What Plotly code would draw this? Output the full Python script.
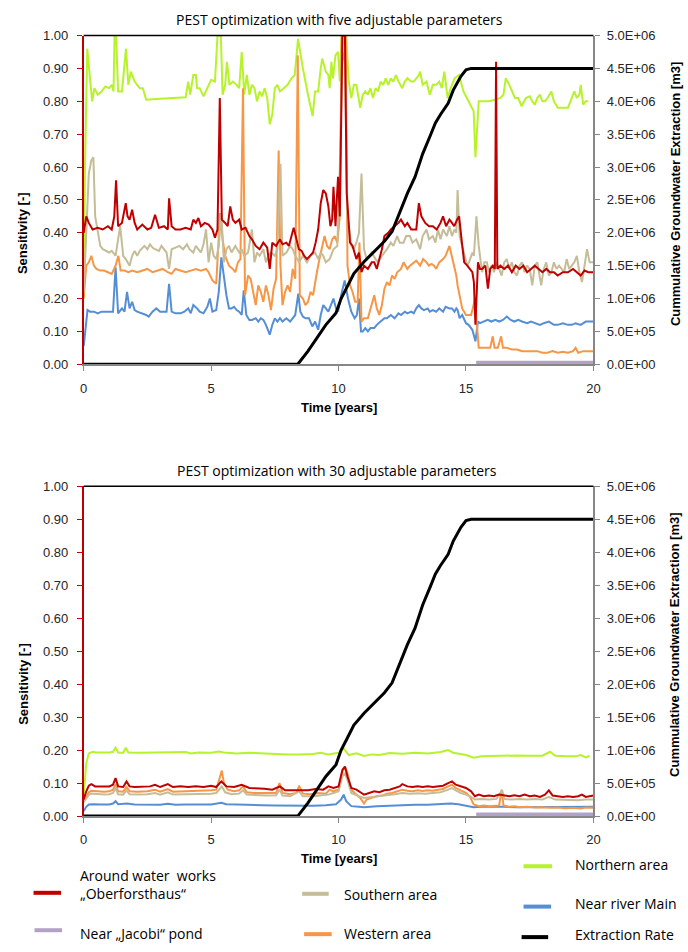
import plotly.graph_objects as go

W, H = 688, 952

# ---------------- data: top chart (five adjustable parameters) ----------------
top_red = [(0.0,0.40),(0.1,0.45),(0.2,0.43),(0.35,0.41),(0.55,0.415),(0.75,0.41),(0.95,0.42),(1.1,0.41),(1.2,0.45),(1.27,0.56),
 (1.35,0.42),(1.5,0.43),(1.65,0.49),(1.72,0.45),(1.8,0.44),(1.9,0.47),(2.0,0.43),(2.1,0.41),(2.3,0.425),(2.5,0.41),(2.65,0.415),
 (2.8,0.455),(2.95,0.415),(3.15,0.42),(3.3,0.41),(3.35,0.505),(3.45,0.42),(3.6,0.41),(3.8,0.41),(4.0,0.415),(4.2,0.41),(4.3,0.44),
 (4.4,0.43),(4.5,0.445),(4.6,0.42),(4.75,0.43),(4.9,0.425),(5.05,0.41),(5.15,0.385),(5.25,0.41),(5.34,0.81),(5.42,0.44),(5.55,0.43),
 (5.65,0.42),(5.75,0.48),(5.85,0.44),(5.95,0.43),(6.1,0.44),(6.2,0.41),(6.35,0.415),(6.5,0.39),(6.6,0.38),(6.75,0.36),(6.9,0.35),
 (7.05,0.37),(7.2,0.355),(7.3,0.29),(7.4,0.37),(7.55,0.36),(7.7,0.38),(7.8,0.365),(7.95,0.37),(8.05,0.36),(8.15,0.39),(8.24,0.415),
 (8.35,0.38),(8.44,0.35),(8.55,0.345),(8.65,0.33),(8.76,0.32),(8.9,0.33),(9.0,0.34),(9.1,0.37),(9.2,0.41),(9.3,0.49),(9.4,0.53),
 (9.5,0.52),(9.6,0.48),(9.68,0.42),(9.75,0.44),(9.8,0.54),(9.88,0.42),(9.93,0.5),(9.98,0.57),(10.05,0.45),(10.15,1.0),(10.25,1.0),
 (10.32,0.52),(10.45,0.37),(10.55,0.36),(10.7,0.32),(10.8,0.34),(10.9,0.28),(11.0,0.3),(11.15,0.29),(11.3,0.31),(11.4,0.31),
 (11.5,0.29),(11.6,0.32),(11.7,0.35),(11.8,0.39),(11.95,0.40),(12.05,0.41),(12.2,0.42),(12.35,0.43),(12.45,0.44),(12.6,0.42),
 (12.7,0.43),(12.85,0.41),(12.95,0.41),(13.05,0.41),(13.15,0.49),(13.25,0.45),(13.4,0.43),(13.55,0.42),(13.7,0.42),(13.85,0.41),
 (14.0,0.43),(14.1,0.45),(14.22,0.42),(14.35,0.44),(14.45,0.43),(14.54,0.42),(14.65,0.44),(14.73,0.45),(14.84,0.37),(14.93,0.31),
 (15.05,0.30),(15.15,0.29),(15.25,0.28),(15.31,0.25),(15.37,0.12),(15.47,0.31),(15.55,0.29),(15.63,0.29),(15.76,0.30),(15.86,0.23),
 (15.95,0.29),(16.05,0.30),(16.13,0.29),(16.18,0.92),(16.23,0.29),(16.35,0.30),(16.5,0.29),(16.65,0.30),(16.8,0.28),(16.95,0.30),
 (17.1,0.29),(17.25,0.30),(17.4,0.28),(17.55,0.29),(17.7,0.30),(17.85,0.29),(18.0,0.28),(18.15,0.29),(18.3,0.28),(18.45,0.28),
 (18.6,0.27),(18.8,0.28),(19.0,0.28),(19.2,0.29),(19.35,0.28),(19.5,0.27),(19.65,0.285),(19.8,0.28),(20.0,0.28)]

top_tan = [(0.0,0.22),(0.1,0.40),(0.2,0.58),(0.3,0.62),(0.38,0.63),(0.45,0.45),(0.55,0.40),(0.65,0.36),(0.75,0.35),(0.9,0.345),
 (1.0,0.34),(1.1,0.345),(1.25,0.33),(1.43,0.42),(1.55,0.33),(1.65,0.32),(1.8,0.30),(1.9,0.33),(2.0,0.345),(2.1,0.33),(2.2,0.345),
 (2.38,0.36),(2.5,0.35),(2.6,0.365),(2.7,0.355),(2.8,0.35),(2.95,0.345),(3.05,0.36),(3.15,0.35),(3.25,0.34),(3.35,0.29),(3.45,0.35),
 (3.6,0.355),(3.75,0.36),(3.9,0.35),(4.05,0.365),(4.15,0.35),(4.3,0.34),(4.4,0.36),(4.5,0.35),(4.6,0.34),(4.7,0.365),(4.8,0.41),
 (4.9,0.31),(5.0,0.37),(5.1,0.33),(5.2,0.32),(5.3,0.36),(5.4,0.46),(5.5,0.31),(5.6,0.35),(5.7,0.36),(5.8,0.34),(5.95,0.36),(6.1,0.34),
 (6.2,0.35),(6.3,0.33),(6.45,0.34),(6.6,0.41),(6.7,0.31),(6.8,0.34),(6.9,0.33),(7.05,0.35),(7.15,0.31),(7.25,0.33),(7.35,0.34),
 (7.5,0.33),(7.6,0.35),(7.72,0.61),(7.8,0.33),(7.95,0.34),(8.1,0.36),(8.2,0.35),(8.3,0.33),(8.45,0.31),(8.6,0.33),(8.76,0.31),
 (8.9,0.33),(9.08,0.34),(9.2,0.32),(9.3,0.34),(9.4,0.33),(9.5,0.31),(9.65,0.32),(9.8,0.35),(9.95,0.36),(10.05,0.60),(10.15,0.95),
 (10.25,0.92),(10.35,0.45),(10.5,0.36),(10.6,0.35),(10.7,0.37),(10.8,0.40),(10.9,0.58),(11.0,0.35),(11.1,0.32),(11.2,0.33),
 (11.3,0.34),(11.45,0.32),(11.55,0.31),(11.7,0.33),(11.8,0.34),(11.9,0.35),(12.05,0.37),(12.15,0.36),(12.3,0.39),(12.4,0.37),
 (12.55,0.37),(12.65,0.39),(12.8,0.39),(12.9,0.37),(13.05,0.38),(13.2,0.35),(13.3,0.39),(13.45,0.41),(13.55,0.38),(13.7,0.39),
 (13.8,0.37),(13.9,0.41),(14.0,0.38),(14.1,0.41),(14.25,0.39),(14.35,0.42),(14.45,0.39),(14.55,0.41),(14.62,0.40),(14.67,0.53),
 (14.75,0.39),(14.85,0.36),(14.93,0.33),(15.05,0.30),(15.12,0.31),(15.25,0.34),(15.31,0.33),(15.41,0.45),(15.5,0.36),(15.63,0.28),
 (15.72,0.31),(15.82,0.31),(15.9,0.28),(16.0,0.30),(16.1,0.28),(16.2,0.31),(16.3,0.29),(16.4,0.27),(16.5,0.31),(16.6,0.32),
 (16.7,0.29),(16.8,0.31),(16.9,0.28),(17.0,0.27),(17.1,0.30),(17.2,0.31),(17.3,0.28),(17.4,0.30),(17.5,0.29),(17.6,0.24),(17.7,0.30),
 (17.8,0.31),(17.95,0.24),(18.05,0.29),(18.15,0.31),(18.25,0.27),(18.35,0.28),(18.45,0.31),(18.55,0.29),(18.65,0.30),(18.75,0.29),
 (18.85,0.28),(18.95,0.32),(19.05,0.29),(19.15,0.30),(19.25,0.31),(19.35,0.33),(19.45,0.28),(19.55,0.25),(19.65,0.30),(19.75,0.35),
 (19.85,0.31),(20.0,0.31)]

top_orange = [(0.0,0.2),(0.1,0.30),(0.2,0.31),(0.3,0.33),(0.4,0.30),(0.5,0.29),(0.65,0.285),(0.8,0.285),(0.95,0.28),(1.1,0.275),
 (1.25,0.30),(1.36,0.33),(1.45,0.285),(1.6,0.285),(1.75,0.28),(1.9,0.285),(2.1,0.28),(2.3,0.285),(2.5,0.29),(2.7,0.28),(2.9,0.285),
 (3.1,0.29),(3.3,0.28),(3.45,0.275),(3.6,0.29),(3.8,0.285),(4.0,0.28),(4.2,0.285),(4.4,0.29),(4.6,0.285),(4.8,0.29),(4.9,0.28),
 (5.05,0.255),(5.2,0.245),(5.35,0.46),(5.45,0.38),(5.55,0.33),(5.7,0.30),(5.85,0.29),(5.95,0.28),(6.05,0.31),(6.15,0.32),(6.25,0.84),
 (6.33,0.21),(6.45,0.27),(6.55,0.26),(6.65,0.22),(6.75,0.18),(6.85,0.24),(6.95,0.22),(7.05,0.19),(7.15,0.24),(7.25,0.21),(7.35,0.165),
 (7.45,0.23),(7.55,0.26),(7.65,0.65),(7.72,0.30),(7.8,0.18),(7.9,0.22),(8.0,0.24),(8.1,0.22),(8.2,0.29),(8.3,0.26),(8.4,0.94),
 (8.48,0.21),(8.6,0.20),(8.7,0.18),(8.8,0.19),(8.9,0.22),(9.0,0.21),(9.08,0.25),(9.15,0.28),(9.25,0.32),(9.35,0.36),(9.45,0.39),
 (9.55,0.36),(9.65,0.35),(9.75,0.38),(9.85,0.39),(9.95,0.37),(10.05,0.45),(10.12,1.0),(10.28,1.0),(10.35,0.30),(10.45,0.24),
 (10.55,0.22),(10.65,0.19),(10.75,0.19),(10.82,0.37),(10.9,0.13),(11.0,0.14),(11.15,0.14),(11.3,0.18),(11.4,0.21),(11.5,0.17),
 (11.6,0.15),(11.7,0.18),(11.8,0.23),(11.9,0.25),(12.0,0.24),(12.1,0.27),(12.2,0.26),(12.3,0.28),(12.45,0.29),(12.55,0.31),
 (12.7,0.29),(12.8,0.30),(12.95,0.31),(13.05,0.315),(13.2,0.30),(13.32,0.32),(13.45,0.31),(13.55,0.30),(13.65,0.305),(13.75,0.30),
 (13.83,0.29),(13.95,0.31),(14.1,0.32),(14.2,0.33),(14.35,0.36),(14.45,0.33),(14.55,0.30),(14.62,0.27),(14.67,0.24),(14.75,0.21),
 (14.85,0.17),(15.0,0.15),(15.1,0.15),(15.2,0.15),(15.3,0.18),(15.35,0.20),(15.41,0.14),(15.5,0.05),(15.63,0.05),(15.8,0.05),
 (15.95,0.05),(16.05,0.085),(16.12,0.05),(16.25,0.05),(16.38,0.085),(16.45,0.05),(16.6,0.05),(16.8,0.045),(17.0,0.045),(17.2,0.04),
 (17.4,0.04),(17.6,0.04),(17.8,0.04),(18.0,0.035),(18.2,0.035),(18.4,0.04),(18.6,0.035),(18.8,0.038),(19.0,0.035),(19.2,0.04),
 (19.3,0.05),(19.4,0.035),(19.6,0.04),(19.8,0.04),(20.0,0.04)]

top_blue = [(0.0,0.055),(0.1,0.13),(0.15,0.165),(0.25,0.16),(0.4,0.16),(0.55,0.155),(0.7,0.16),(0.9,0.16),(1.05,0.16),(1.15,0.16),
 (1.25,0.295),(1.35,0.155),(1.5,0.17),(1.6,0.16),(1.7,0.22),(1.8,0.17),(1.9,0.19),(2.0,0.165),(2.1,0.16),(2.3,0.155),(2.45,0.15),
 (2.55,0.145),(2.7,0.16),(2.85,0.17),(3.0,0.16),(3.1,0.16),(3.25,0.16),(3.35,0.245),(3.45,0.16),(3.6,0.155),(3.8,0.155),(3.95,0.16),
 (4.1,0.17),(4.2,0.155),(4.3,0.18),(4.45,0.17),(4.55,0.16),(4.7,0.155),(4.85,0.175),(4.95,0.20),(5.05,0.16),(5.2,0.165),(5.3,0.22),
 (5.4,0.325),(5.5,0.26),(5.6,0.21),(5.7,0.17),(5.8,0.17),(5.9,0.175),(6.0,0.165),(6.1,0.16),(6.2,0.15),(6.28,0.225),(6.38,0.15),
 (6.5,0.135),(6.6,0.135),(6.75,0.14),(6.85,0.13),(6.95,0.14),(7.05,0.135),(7.15,0.12),(7.3,0.09),(7.4,0.12),(7.5,0.14),(7.6,0.13),
 (7.7,0.14),(7.8,0.13),(7.95,0.14),(8.1,0.13),(8.2,0.14),(8.3,0.15),(8.42,0.215),(8.5,0.16),(8.6,0.145),(8.7,0.14),(8.84,0.14),
 (8.97,0.115),(9.08,0.13),(9.2,0.105),(9.3,0.15),(9.4,0.18),(9.5,0.17),(9.6,0.16),(9.7,0.18),(9.8,0.20),(9.9,0.17),(9.98,0.16),
 (10.1,0.21),(10.24,0.255),(10.37,0.2),(10.5,0.16),(10.63,0.14),(10.72,0.15),(10.8,0.20),(10.88,0.10),(10.95,0.10),(11.05,0.11),
 (11.15,0.10),(11.25,0.11),(11.4,0.11),(11.5,0.12),(11.65,0.13),(11.8,0.14),(11.9,0.14),(12.05,0.15),(12.2,0.14),(12.35,0.155),
 (12.45,0.15),(12.6,0.16),(12.7,0.155),(12.85,0.16),(12.95,0.155),(13.05,0.17),(13.15,0.18),(13.25,0.17),(13.35,0.165),(13.5,0.17),
 (13.58,0.16),(13.7,0.165),(13.83,0.16),(13.95,0.17),(14.1,0.16),(14.2,0.175),(14.35,0.17),(14.45,0.17),(14.55,0.16),(14.62,0.17),
 (14.67,0.165),(14.75,0.14),(14.85,0.15),(15.0,0.125),(15.1,0.12),(15.25,0.105),(15.37,0.07),(15.47,0.13),(15.55,0.125),(15.7,0.13),
 (15.85,0.135),(16.0,0.13),(16.15,0.135),(16.3,0.13),(16.45,0.135),(16.6,0.145),(16.75,0.135),(16.9,0.13),(17.05,0.135),(17.2,0.13),
 (17.4,0.125),(17.55,0.13),(17.7,0.125),(17.9,0.12),(18.05,0.125),(18.25,0.13),(18.45,0.12),(18.6,0.12),(18.8,0.125),(19.0,0.12),
 (19.15,0.12),(19.3,0.125),(19.5,0.12),(19.7,0.13),(19.85,0.13),(20.0,0.13)]

top_green = [(0.0,0.2),(0.05,0.6),(0.14,0.96),(0.25,0.86),(0.33,0.80),(0.42,0.84),(0.55,0.82),(0.7,0.83),(0.85,0.845),(1.0,0.84),
 (1.1,0.85),(1.17,0.83),(1.21,1.0),(1.27,1.0),(1.35,0.83),(1.5,0.83),(1.66,0.96),(1.75,0.85),(1.85,0.89),(2.0,0.86),(2.2,0.84),
 (2.32,0.84),(2.45,0.805),(3.0,0.808),(3.5,0.81),(4.0,0.812),(4.1,0.86),(4.18,0.82),(4.3,0.88),(4.4,0.88),(4.45,0.84),(4.55,0.84),
 (4.7,0.815),(4.85,0.84),(5.0,0.865),(5.15,0.86),(5.25,1.0),(5.38,1.0),(5.45,0.82),(5.55,0.85),(5.62,0.92),(5.72,0.85),(5.85,0.86),
 (6.0,0.85),(6.1,0.84),(6.2,0.95),(6.3,0.82),(6.4,0.88),(6.5,0.82),(6.6,0.85),(6.7,0.84),(6.8,0.80),(6.9,0.83),(7.0,0.815),(7.1,0.84),
 (7.2,0.81),(7.3,0.73),(7.4,0.76),(7.5,0.84),(7.6,0.85),(7.7,0.83),(7.85,0.84),(8.0,0.85),(8.15,0.87),(8.28,0.88),(8.41,0.99),
 (8.6,0.90),(8.8,0.82),(8.98,0.755),(9.08,0.83),(9.2,0.83),(9.3,0.90),(9.36,0.93),(9.5,0.89),(9.6,0.88),(9.65,0.84),(9.72,0.92),
 (9.78,0.87),(9.88,0.94),(9.98,0.95),(10.05,0.86),(10.12,1.0),(10.3,1.0),(10.4,0.86),(10.5,0.81),(10.6,0.85),(10.7,0.85),(10.85,0.78),
 (10.95,0.82),(11.05,0.83),(11.15,0.82),(11.25,0.84),(11.35,0.81),(11.45,0.84),(11.55,0.83),(11.65,0.86),(11.75,0.85),(11.85,0.87),
 (11.95,0.85),(12.05,0.87),(12.15,0.86),(12.25,0.88),(12.35,0.86),(12.5,0.84),(12.6,0.86),(12.7,0.87),(12.85,0.86),(12.95,0.86),
 (13.06,0.87),(13.15,0.88),(13.2,0.89),(13.3,0.85),(13.45,0.86),(13.58,0.82),(13.7,0.85),(13.83,0.85),(13.95,0.86),(14.05,0.84),
 (14.15,0.89),(14.28,0.81),(14.4,0.84),(14.55,0.87),(14.73,0.88),(14.9,0.83),(15.1,0.80),(15.3,0.77),(15.37,0.63),(15.5,0.80),
 (15.6,0.80),(15.9,0.80),(16.15,0.805),(16.35,0.81),(16.47,0.82),(16.56,0.87),(16.7,0.85),(16.92,0.81),(17.05,0.81),(17.18,0.785),
 (17.35,0.81),(17.5,0.815),(17.6,0.80),(17.7,0.79),(17.8,0.81),(17.9,0.82),(18.0,0.80),(18.1,0.80),(18.2,0.81),(18.35,0.83),
 (18.45,0.80),(18.6,0.78),(18.8,0.78),(19.0,0.78),(19.1,0.80),(19.25,0.83),(19.35,0.81),(19.45,0.82),(19.5,0.85),(19.6,0.79),
 (19.7,0.80),(19.8,0.80)]

top_purple = [(15.4,0.005),(20.0,0.005)]

# ---------------- data: bottom chart (30 adjustable parameters) ----------------
bot_red = [(0.0,0.05),(0.1,0.075),(0.2,0.092),(0.3,0.097),(0.45,0.09),(0.6,0.09),(0.8,0.088),(1.0,0.09),(1.15,0.095),(1.25,0.115),
 (1.35,0.09),(1.55,0.088),(1.68,0.105),(1.8,0.09),(2.0,0.088),(2.3,0.088),(2.6,0.09),(2.8,0.095),(3.0,0.088),(3.3,0.097),(3.5,0.088),
 (3.8,0.09),(4.1,0.088),(4.4,0.09),(4.7,0.088),(5.0,0.092),(5.2,0.088),(5.4,0.105),(5.6,0.09),(5.9,0.088),(6.2,0.095),(6.5,0.085),
 (6.8,0.085),(7.1,0.083),(7.4,0.08),(7.7,0.09),(7.9,0.078),(8.2,0.078),(8.5,0.08),(8.8,0.078),(9.1,0.082),(9.4,0.08),(9.6,0.09),
 (9.8,0.085),(10.0,0.09),(10.15,0.14),(10.25,0.15),(10.35,0.12),(10.5,0.085),(10.7,0.08),(10.9,0.07),(11.0,0.065),(11.2,0.07),
 (11.4,0.075),(11.6,0.072),(11.8,0.078),(12.0,0.08),(12.2,0.085),(12.4,0.09),(12.5,0.097),(12.7,0.09),(12.9,0.088),(13.1,0.09),
 (13.3,0.088),(13.5,0.09),(13.7,0.088),(13.9,0.09),(14.1,0.092),(14.3,0.1),(14.45,0.105),(14.6,0.095),(14.8,0.09),(15.0,0.085),
 (15.2,0.075),(15.35,0.06),(15.5,0.065),(15.7,0.06),(15.9,0.062),(16.1,0.06),(16.3,0.065),(16.5,0.062),(16.7,0.06),(16.9,0.063),
 (17.1,0.06),(17.3,0.065),(17.5,0.06),(17.7,0.062),(17.9,0.058),(18.1,0.065),(18.25,0.078),(18.4,0.062),(18.6,0.06),(18.8,0.058),
 (19.0,0.06),(19.2,0.058),(19.4,0.06),(19.55,0.065),(19.7,0.058),(19.85,0.06),(20.0,0.062)]

bot_orange = [(0.0,0.045),(0.1,0.06),(0.2,0.072),(0.3,0.077),(0.5,0.075),(0.8,0.074),(1.0,0.075),(1.15,0.08),(1.25,0.097),(1.35,0.075),
 (1.55,0.074),(1.68,0.088),(1.8,0.075),(2.1,0.074),(2.5,0.075),(2.8,0.08),(3.0,0.074),(3.3,0.082),(3.5,0.074),(3.9,0.075),(4.3,0.074),
 (4.7,0.076),(5.0,0.078),(5.2,0.08),(5.35,0.115),(5.42,0.138),(5.5,0.1),(5.65,0.08),(5.9,0.075),(6.1,0.078),(6.25,0.09),(6.4,0.072),
 (6.7,0.07),(7.0,0.07),(7.3,0.068),(7.55,0.07),(7.68,0.1),(7.8,0.07),(8.1,0.066),(8.35,0.07),(8.45,0.092),(8.6,0.068),(8.9,0.066),
 (9.2,0.07),(9.5,0.068),(9.65,0.08),(9.8,0.075),(10.0,0.08),(10.15,0.135),(10.25,0.15),(10.35,0.13),(10.5,0.08),(10.7,0.065),
 (10.85,0.055),(11.0,0.038),(11.1,0.05),(11.3,0.055),(11.5,0.06),(11.7,0.062),(11.9,0.068),(12.1,0.07),(12.3,0.075),(12.5,0.08),
 (12.7,0.077),(12.9,0.075),(13.1,0.078),(13.3,0.076),(13.5,0.078),(13.7,0.077),(13.9,0.08),(14.1,0.082),(14.3,0.09),(14.45,0.095),
 (14.6,0.085),(14.8,0.078),(15.0,0.07),(15.15,0.06),(15.3,0.035),(15.5,0.03),(15.7,0.032),(15.9,0.03),(16.1,0.03),(16.3,0.032),
 (16.4,0.08),(16.47,0.032),(16.7,0.028),(16.9,0.03),(17.1,0.027),(17.4,0.028),(17.7,0.026),(18.0,0.027),(18.3,0.025),(18.6,0.026),
 (18.9,0.024),(19.2,0.025),(19.5,0.023),(19.7,0.026),(20.0,0.025)]

bot_tan = [(0.0,0.042),(0.1,0.055),(0.2,0.064),(0.3,0.068),(0.5,0.066),(0.8,0.065),(1.0,0.066),(1.15,0.07),(1.25,0.085),(1.35,0.066),
 (1.55,0.065),(1.68,0.078),(1.8,0.066),(2.1,0.065),(2.5,0.066),(2.8,0.07),(3.0,0.065),(3.3,0.072),(3.5,0.065),(3.9,0.066),(4.3,0.065),
 (4.7,0.066),(5.0,0.068),(5.2,0.07),(5.42,0.09),(5.55,0.072),(5.8,0.066),(6.1,0.068),(6.25,0.078),(6.4,0.065),(6.8,0.063),(7.2,0.062),
 (7.55,0.063),(7.68,0.08),(7.8,0.062),(8.1,0.06),(8.45,0.075),(8.6,0.06),(9.0,0.06),(9.3,0.062),(9.6,0.065),(9.8,0.07),(10.0,0.075),
 (10.15,0.12),(10.25,0.13),(10.35,0.11),(10.5,0.07),(10.8,0.06),(11.0,0.055),(11.3,0.058),(11.6,0.06),(11.9,0.063),(12.2,0.066),
 (12.5,0.07),(12.8,0.068),(13.1,0.069),(13.4,0.068),(13.7,0.07),(14.0,0.072),(14.3,0.08),(14.45,0.085),(14.6,0.078),(14.8,0.07),
 (15.0,0.065),(15.2,0.058),(15.35,0.05),(15.6,0.052),(15.9,0.05),(16.2,0.052),(16.42,0.078),(16.5,0.052),(16.8,0.05),(17.1,0.052),
 (17.4,0.05),(17.7,0.052),(18.0,0.05),(18.25,0.058),(18.5,0.05),(18.8,0.049),(19.1,0.05),(19.4,0.048),(19.7,0.05),(20.0,0.05)]

bot_blue = [(0.0,0.015),(0.1,0.028),(0.2,0.035),(0.4,0.036),(0.7,0.035),(1.0,0.035),(1.15,0.038),(1.25,0.045),(1.35,0.036),(1.7,0.038),
 (2.0,0.035),(2.5,0.035),(3.0,0.034),(3.3,0.037),(3.6,0.034),(4.0,0.035),(4.5,0.034),(5.0,0.035),(5.4,0.04),(5.6,0.036),(6.0,0.035),
 (6.5,0.033),(7.0,0.033),(7.5,0.032),(8.0,0.031),(8.5,0.032),(9.0,0.031),(9.5,0.033),(9.9,0.036),(10.1,0.05),(10.2,0.065),(10.3,0.045),
 (10.5,0.03),(10.8,0.028),(11.0,0.027),(11.5,0.03),(12.0,0.032),(12.5,0.033),(13.0,0.034),(13.5,0.034),(14.0,0.035),(14.4,0.038),
 (14.7,0.036),(15.0,0.032),(15.3,0.027),(15.6,0.028),(16.0,0.027),(16.5,0.028),(17.0,0.027),(17.5,0.027),(18.0,0.026),(18.5,0.027),
 (19.0,0.026),(19.5,0.027),(20.0,0.028)]

bot_green = [(0.0,0.06),(0.1,0.16),(0.2,0.19),(0.35,0.195),(0.5,0.193),(0.8,0.192),(1.0,0.193),(1.15,0.195),(1.25,0.207),(1.35,0.193),
 (1.55,0.192),(1.65,0.207),(1.75,0.193),(2.2,0.192),(3.0,0.193),(4.0,0.194),(4.2,0.19),(4.5,0.193),(5.0,0.192),(5.3,0.196),
 (5.5,0.193),(6.0,0.19),(6.5,0.192),(7.0,0.19),(7.5,0.188),(8.0,0.187),(8.5,0.187),(9.0,0.188),(9.3,0.192),(9.6,0.187),(10.0,0.192),
 (10.2,0.205),(10.4,0.185),(10.7,0.19),(11.0,0.182),(11.3,0.187),(11.6,0.185),(12.0,0.191),(12.5,0.189),(13.0,0.192),(13.5,0.19),
 (14.0,0.194),(14.3,0.2),(14.5,0.192),(15.0,0.185),(15.3,0.177),(15.6,0.181),(16.0,0.182),(16.5,0.185),(17.0,0.184),(17.5,0.183),
 (18.0,0.183),(18.3,0.195),(18.5,0.183),(19.0,0.181),(19.3,0.181),(19.5,0.185),(19.7,0.178),(19.85,0.183)]

bot_purple = [(15.4,0.005),(20.0,0.005)]

# cumulative extraction (m3), same in both charts
extraction = [(0.0,0),(8.4,0),(8.8,2.0e5),(9.1,3.7e5),(9.5,6.0e5),(9.9,7.8e5),(10.1,1.0e6),(10.3,1.15e6),(10.6,1.38e6),
 (11.0,1.56e6),(11.4,1.72e6),(11.8,1.87e6),(12.1,2.02e6),(12.4,2.3e6),(12.7,2.6e6),(13.0,2.85e6),(13.3,3.2e6),(13.6,3.48e6),
 (13.8,3.67e6),(14.0,3.8e6),(14.3,3.97e6),(14.5,4.17e6),(14.8,4.38e6),(15.0,4.48e6),(15.2,4.5e6),(20.0,4.5e6)]

# ---------------- labels ----------------
chart_titles = ["PEST optimization with five adjustable parameters", "PEST optimization with 30 adjustable parameters"]
x_title = "Time [years]"
y_title = "Sensitivity [-]"
y2_title = "Cummulative Groundwater Extraction [m3]"
x_ticks = [0, 5, 10, 15, 20]
y_ticks = [0.0, 0.1, 0.2, 0.3, 0.4, 0.5, 0.6, 0.7, 0.8, 0.9, 1.0]
y2_tickvals = [0, 5e5, 1e6, 1.5e6, 2e6, 2.5e6, 3e6, 3.5e6, 4e6, 4.5e6, 5e6]
y2_ticktext = ["0.0E+00", "5.0E+05", "1.0E+06", "1.5E+06", "2.0E+06", "2.5E+06",
               "3.0E+06", "3.5E+06", "4.0E+06", "4.5E+06", "5.0E+06"]

series_names = {
    "red": "Around water  works<br>\u201eOberforsthaus\u201c",
    "purple": "Near \u201eJacobi\u201c pond",
    "tan": "Southern area",
    "orange": "Western area",
    "green": "Northern area",
    "blue": "Near river Main",
    "black": "Extraction Rate",
}
colors = {"red": "#c00000", "purple": "#b3a2c7", "tan": "#c4bd97", "orange": "#f79646",
          "green": "#b7f22a", "blue": "#558ed5", "black": "#000000"}
widths = {"red": 2, "purple": 4, "tan": 2, "orange": 2, "green": 2, "blue": 2, "black": 3}

# ---------------- figure ----------------
def px_x(p):
    return p / W

def px_y(p):
    return 1 - p / H

TICKFONT = dict(family="Liberation Sans, Arial, sans-serif", size=13, color="#262626")
TXTFONT = "Open Sans, Noto Sans, sans-serif"
BOLDFONT = "Liberation Sans, Arial, sans-serif"

fig = go.Figure()

charts = [
    dict(xa="x", ya="y", ya2="y2",
         data={"green": top_green, "blue": top_blue, "orange": top_orange, "tan": top_tan,
               "red": top_red, "purple": top_purple}),
    dict(xa="x2", ya="y3", ya2="y4",
         data={"green": bot_green, "blue": bot_blue, "orange": bot_orange, "tan": bot_tan,
               "red": bot_red, "purple": bot_purple}),
]

for ch in charts:
    for key, pts in ch["data"].items():
        t, v = zip(*pts)
        fig.add_trace(go.Scatter(x=list(t), y=list(v), mode="lines", name=series_names[key],
                                 line=dict(color=colors[key], width=widths[key]),
                                 xaxis=ch["xa"], yaxis=ch["ya"], showlegend=False))
    t, v = zip(*extraction)
    fig.add_trace(go.Scatter(x=list(t), y=list(v), mode="lines", name=series_names["black"],
                             line=dict(color=colors["black"], width=widths["black"]),
                             xaxis=ch["xa"], yaxis=ch["ya2"], showlegend=False))

x_dom = [px_x(81), px_x(599)]
top_dom = [px_y(363), px_y(29)]
bot_dom = [px_y(822), px_y(487)]

def xaxis_cfg(anchor):
    return dict(domain=x_dom, anchor=anchor, range=[0, 20], tickvals=x_ticks, ticks="outside",
                ticklen=5, tickcolor="#868686", showline=True, linecolor="#868686", linewidth=1.5,
                showgrid=False, zeroline=False, tickfont=TICKFONT, ticklabelstandoff=6, fixedrange=True)

def yaxis_cfg(anchor, dom):
    return dict(domain=dom, anchor=anchor, range=[0, 1], tickvals=y_ticks, tickformat=".2f",
                ticks="outside", ticklen=5, tickcolor="#c00000", showline=True, linecolor="#c00000",
                linewidth=1.5, showgrid=False, zeroline=False, tickfont=TICKFONT, ticklabelstandoff=6)

def yaxis2_cfg(anchor, overlay):
    return dict(overlaying=overlay, anchor=anchor, side="right", range=[0, 5e6], tickvals=y2_tickvals,
                ticktext=y2_ticktext, ticks="outside", ticklen=5, tickcolor="#868686", showline=True,
                linecolor="#868686", linewidth=1.5, showgrid=False, zeroline=False, tickfont=TICKFONT,
                ticklabelstandoff=4)

fig.update_layout(
    width=W, height=H, margin=dict(l=0, r=0, t=0, b=0),
    paper_bgcolor="white", plot_bgcolor="white", showlegend=False,
    xaxis=xaxis_cfg("y"), yaxis=yaxis_cfg("x", top_dom), yaxis2=yaxis2_cfg("x", "y"),
    xaxis2=xaxis_cfg("y3"), yaxis3=yaxis_cfg("x2", bot_dom), yaxis4=yaxis2_cfg("x2", "y3"),
)

shapes = []
# top frame line of each plot area
for xr, yr in [("x domain", "y domain"), ("x2 domain", "y3 domain")]:
    shapes.append(dict(type="line", xref=xr, yref=yr, x0=0, x1=1, y0=1, y1=1,
                       line=dict(color="black", width=1.5)))

annotations = []
def add_text(text, x, y, size, family, angle=0, xanchor="center", color="#000000"):
    annotations.append(dict(text=text, x=px_x(x), y=px_y(y), xref="paper", yref="paper",
                            showarrow=False, xanchor=xanchor, yanchor="middle", textangle=angle,
                            align="left", font=dict(family=family, size=size, color=color)))

# chart titles
add_text(chart_titles[0], 341, 13, 14, TXTFONT)
add_text(chart_titles[1], 338, 471, 14, TXTFONT)
# axis titles
for off in (0, 458):
    add_text("<b>" + x_title + "</b>", 340, 407 + off, 13, BOLDFONT)
    add_text("<b>" + y_title + "</b>", 19, 230 + off, 13, BOLDFONT, angle=-90)
    add_text("<b>" + y2_title + "</b>", 682, 190 + off, 13, BOLDFONT, angle=-90)

# legend (three columns)
legend_items = [
    ("red", 30, 58, 900, 75, 892),
    ("purple", 31, 59, 938, 75, 941),
    ("tan", 303, 330, 901, 343, 902),
    ("orange", 305, 333, 942, 343, 941),
    ("green", 528, 557, 873, 578, 871),
    ("blue", 528, 556, 914, 578, 911),
    ("black", 526, 553, 945, 578, 942),
]
for key, x0, x1, ys, xt, yt in legend_items:
    shapes.append(dict(type="line", xref="paper", yref="paper", x0=px_x(x0), x1=px_x(x1),
                       y0=px_y(ys), y1=px_y(ys), line=dict(color=colors[key], width=4)))
    add_text(series_names[key], xt, yt, 14, TXTFONT, xanchor="left")

fig.update_layout(shapes=shapes, annotations=annotations)
fig.write_html("out.html", config={"displayModeBar": False},
               post_script="document.body.style.margin='0';document.body.style.overflow='hidden';")
